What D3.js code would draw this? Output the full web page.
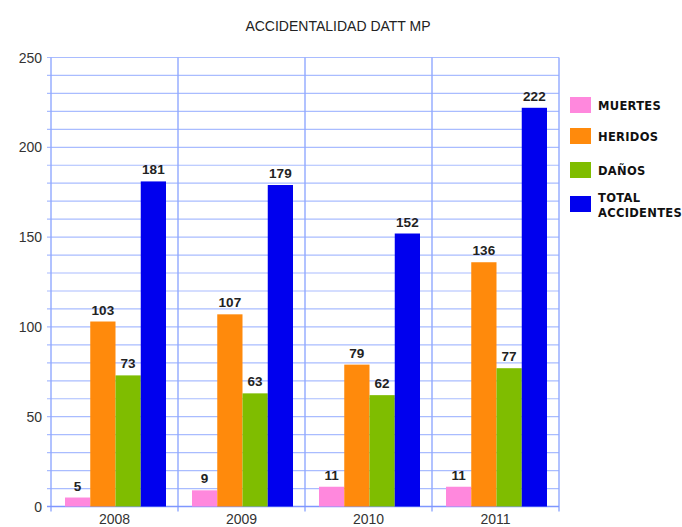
<!DOCTYPE html>
<html><head><meta charset="utf-8">
<script src="https://cdn.jsdelivr.net/npm/d3@7"></script>
<style>body{margin:0;background:#fff;}svg{display:block;}</style>
</head><body>
<svg id="c" width="682" height="527"></svg>
<script>
const years = ["2008","2009","2010","2011"];
const seriesNames = ["MUERTES","HERIDOS","DAÑOS","TOTAL ACCIDENTES"];
const muertes = [5, 9, 11, 11];
const heridos = [103, 107, 79, 136];
const danos = [73, 63, 62, 77];
const total = [181, 179, 152, 222];
const colors = ["#ff88dd","#ff8a0c","#7fbd00","#0000ee"];
const yTicks = [0,50,100,150,200,250];

const values = [muertes, heridos, danos, total];
const svg = d3.select("#c");
const L = 51, R = 559, T = 57.5, B = 506.5;
const x = d3.scaleBand().domain(years).range([L, R]).paddingInner(0).paddingOuter(0);
const inner = d3.scaleBand().domain(d3.range(4)).range([14, x.bandwidth() - 12]).padding(0);
const y = d3.scaleLinear().domain([0, 250]).range([B, T]);

// minor grid
svg.append("g").selectAll("line").data(d3.range(0, 251, 10)).join("line")
  .attr("x1", L - 4).attr("x2", R).attr("y1", d => y(d)).attr("y2", d => y(d))
  .attr("stroke", "#a9bcff").attr("stroke-width", 1.2);
// vertical category lines
svg.append("g").selectAll("line").data(d3.range(5)).join("line")
  .attr("x1", i => L + i * x.bandwidth()).attr("x2", i => L + i * x.bandwidth())
  .attr("y1", T).attr("y2", B + 5)
  .attr("stroke", "#90a8ff").attr("stroke-width", 1.4);
// axis lines
svg.append("line").attr("x1", L - 4).attr("x2", R).attr("y1", B).attr("y2", B).attr("stroke", "#7f97ff").attr("stroke-width", 1.5);

// y tick labels
svg.append("g").selectAll("text").data(yTicks).join("text")
  .attr("x", 42).attr("y", d => y(d) + 5).attr("text-anchor", "end")
  .attr("font-family", "Liberation Sans, Arial, sans-serif").attr("font-size", 14).attr("fill", "#333")
  .text(d => d);
// x labels
svg.append("g").selectAll("text").data(years).join("text")
  .attr("x", d => x(d) + x.bandwidth() / 2).attr("y", 524).attr("text-anchor", "middle")
  .attr("font-family", "Liberation Sans, Arial, sans-serif").attr("font-size", 14).attr("fill", "#333")
  .text(d => d);

// bars
years.forEach((yr, i) => {
  values.forEach((arr, s) => {
    const bx = x(yr) + inner(s);
    svg.append("rect").attr("x", bx).attr("y", y(arr[i])).attr("width", inner.bandwidth())
      .attr("height", y(0) - y(arr[i])).attr("fill", colors[s]);
    svg.append("text").attr("x", bx + inner.bandwidth() / 2).attr("y", y(arr[i]) - 7)
      .attr("text-anchor", "middle").attr("font-family", "Liberation Sans, Arial, sans-serif")
      .attr("font-weight", "bold").attr("font-size", 13.5).attr("fill", "#222").text(arr[i]);
  });
});

// title
svg.append("text").attr("x", 338).attr("y", 31).attr("text-anchor", "middle")
  .attr("font-family", "Liberation Sans, Arial, sans-serif").attr("font-size", 14).attr("fill", "#222")
  .text("ACCIDENTALIDAD DATT MP");

// legend
const legY = [97, 128, 162, 196];
seriesNames.forEach((n, s) => {
  svg.append("rect").attr("x", 570).attr("y", legY[s]).attr("width", 21).attr("height", 16).attr("fill", colors[s]);
  const t = svg.append("text").attr("x", 598).attr("font-family", "DejaVu Sans, sans-serif")
    .attr("font-weight", "bold").attr("font-size", 11.5).attr("letter-spacing", 0.3).attr("fill", "#111");
  if (s === 3) {
    t.append("tspan").attr("x", 598).attr("y", legY[s] + 6).text("TOTAL");
    t.append("tspan").attr("x", 598).attr("y", legY[s] + 21).text("ACCIDENTES");
  } else {
    t.attr("y", legY[s] + 13).text(n);
  }
});
</script>
</body></html>
